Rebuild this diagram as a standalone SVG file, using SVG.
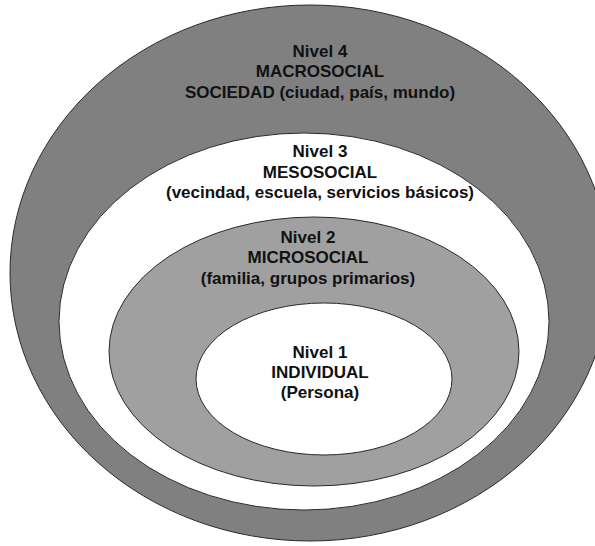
<svg xmlns="http://www.w3.org/2000/svg" width="595" height="546" viewBox="0 0 595 546">
<style>
.ring{stroke:#2a2a2a;stroke-width:1}
.dark{fill:#808080}
.mid{fill:#a0a0a0}
.light{fill:#ffffff}
text{font-family:"Liberation Sans",Arial,sans-serif;font-weight:bold;font-size:17px;fill:#111;text-anchor:middle}
</style>
<rect width="595" height="546" fill="#ffffff"/>
<g id="nivel4">
<ellipse class="ring dark" cx="310" cy="273" rx="300" ry="268"/>
<text x="320" y="57">Nivel 4</text>
<text x="320" y="77">MACROSOCIAL</text>
<text x="320" y="98">SOCIEDAD (ciudad, país, mundo)</text>
</g>
<g id="nivel3">
<ellipse class="ring light" cx="304" cy="321.5" rx="245" ry="188.5"/>
<text x="320" y="157">Nivel 3</text>
<text x="320" y="178">MESOSOCIAL</text>
<text x="320" y="198">(vecindad, escuela, servicios básicos)</text>
</g>
<g id="nivel2">
<ellipse class="ring mid" cx="314" cy="351.5" rx="205" ry="134.5"/>
<text x="308" y="243">Nivel 2</text>
<text x="308" y="263">MICROSOCIAL</text>
<text x="308" y="284">(familia, grupos primarios)</text>
</g>
<g id="nivel1">
<ellipse class="ring light" cx="324" cy="379" rx="128" ry="76"/>
<text x="320" y="358">Nivel 1</text>
<text x="320" y="378">INDIVIDUAL</text>
<text x="320" y="398">(Persona)</text>
</g>
<g id="connectors"/>
</svg>
